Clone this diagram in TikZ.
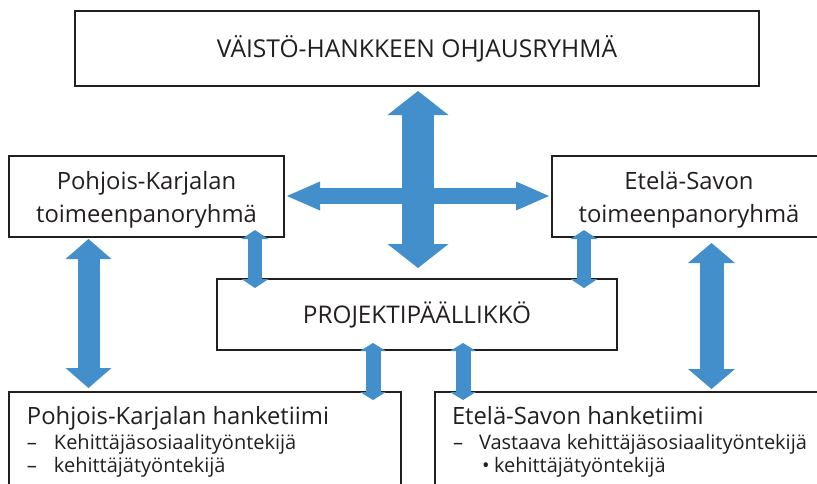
\documentclass[tikz,border=0pt]{standalone}
\usepackage{fontspec}
\setmainfont{Open Sans}
\usetikzlibrary{arrows.meta,calc}
\definecolor{arrowblue}{RGB}{67,143,204}
\definecolor{boxline}{RGB}{35,31,32}
\tikzset{
  box/.style={draw=boxline, line width=2pt, inner sep=0pt, outer sep=0pt, text=boxline, align=center},
  txt/.style={inner sep=0pt, outer sep=0pt, text=boxline, anchor=base west},
  barrow/.style args={#1/#2/#3}{draw=arrowblue, line width=#1,
    arrows={Triangle[width=#2,length=#3,line width=0pt]-Triangle[width=#2,length=#3,line width=0pt]}},
  bigfont/.style={font=\fontsize{23.8}{33}\selectfont},
  itemfont/.style={font=\fontsize{20}{23}\selectfont},
  boxlabel/.style={label={[align=center, text=boxline, bigfont, yshift=-3.5pt]center:#1}}
}
\begin{document}
\begin{tikzpicture}[x=1pt,y=-1pt]
\useasboundingbox (0,0) rectangle (817,483);
\clip (0,0) rectangle (817,483);
\fill[white] (0,0) rectangle (817,483);
% boxes
\node[box, minimum width=684pt, minimum height=75pt, font=\fontsize{24.6}{30}\selectfont] (ohj) at (417,48.5) {VÄISTÖ-HANKKEEN OHJAUSRYHMÄ};
\node[box, minimum width=275pt, minimum height=81pt, boxlabel={Pohjois-Karjalan\\toimeenpanoryhmä}] (pkt) at (146.5,196.5) {};
\node[box, minimum width=274pt, minimum height=81pt, boxlabel={Etelä-Savon\\toimeenpanoryhmä}] (est) at (689,196.5) {};
\node[box, minimum width=400pt, minimum height=71pt, font=\fontsize{24.3}{30}\selectfont] (proj) at (417,314.5) {PROJEKTIPÄÄLLIKKÖ};
\node[box, minimum width=392pt, minimum height=118pt] (pkteam) at (205,451) {};
\node[box, minimum width=405pt, minimum height=118pt] (esteam) at (637.5,451) {};
% bottom box texts
\node[txt, bigfont] (pkteamtitle) at ($(pkteam.north west)+(18,32)$) {Pohjois-Karjalan hanketiimi};
\node[txt, itemfont] (pkitem1) at ($(pkteam.north west)+(18,57)$) {\makebox[27pt][l]{–}Kehittäjäsosiaalityöntekijä};
\node[txt, itemfont] (pkitem2) at ($(pkteam.north west)+(18,80)$) {\makebox[27pt][l]{–}kehittäjätyöntekijä};
\node[txt, bigfont] (esteamtitle) at ($(esteam.north west)+(17,32)$) {Etelä-Savon hanketiimi};
\node[txt, itemfont] (esitem1) at ($(esteam.north west)+(18,57)$) {\makebox[26pt][l]{–}Vastaava kehittäjäsosiaalityöntekijä};
\node[txt, itemfont] (esitem2) at ($(esteam.north west)+(47,80)$) {\makebox[12pt][l]{•}kehittäjätyöntekijä};
% arrows
\draw[barrow={32pt/61pt/24pt}] ($(ohj.south)+(1,5)$) -- ($(proj.north)+(1,-11)$);
\draw[barrow={16pt/29pt/33pt}] ($(pkt.east)+(3,-0.5)$) -- ($(est.west)+(-3,-0.5)$);
\draw[barrow={22pt/46pt/20pt}] ($(pkt.south west)+(79.5,2)$) -- ($(pkteam.north west)+(79.5,-4)$);
\draw[barrow={24pt/47pt/20pt}] ($(est.south west)+(159.5,6)$) -- ($(esteam.north west)+(276.5,-3)$);
\draw[barrow={14pt/27pt/9pt}] ($(pkt.south west)+(246,-7)$) -- ($(proj.north west)+(38,9)$);
\draw[barrow={14pt/27pt/9pt}] ($(est.south west)+(32,-7)$) -- ($(proj.north east)+(-33,9)$);
\draw[barrow={15pt/26pt/8pt}] ($(proj.south west)+(156,-7)$) -- ($(pkteam.north east)+(-28,8)$);
\draw[barrow={15pt/26pt/8pt}] ($(proj.south west)+(246,-7)$) -- ($(esteam.north west)+(28,8)$);
\end{tikzpicture}
\end{document}
